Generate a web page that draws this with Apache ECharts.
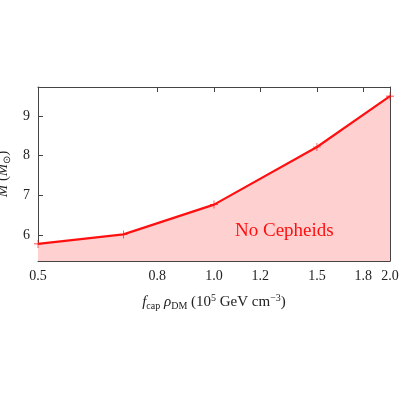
<!DOCTYPE html><html><head><meta charset="utf-8">
<script src="https://cdn.jsdelivr.net/npm/echarts@6/dist/echarts.min.js"></script>
<style>html,body{margin:0;padding:0;background:#fff}#c{width:400px;height:400px}</style></head><body><div id="c"></div>
<script>
const xVals=[0.5,0.7,1.0,1.5,2.0];
const mVals=[5.78,6.02,6.77,8.22,9.5];
const xTicks=[0.5,0.8,1.0,1.2,1.5,1.8,2.0];
const xTickLabels=['0.5','0.8','1.0','1.2','1.5','1.8','2.0'];
const yTicks=[6,7,8,9];
const L=Math.log10;
const data=xVals.map((x,i)=>[L(x),mVals[i]]);
const tickPos=xTicks.map(L);
const font='Liberation Serif';
const plus='path://M0,4.6L10,4.6L10,5.4L0,5.4ZM4.6,0L5.4,0L5.4,10L4.6,10Z';
const ax={axisLine:{onZero:false,lineStyle:{color:'#444'}},splitLine:{show:false}};
const chart=echarts.init(document.getElementById('c'));
chart.setOption({
 animation:false,
 grid:{left:38,right:10,top:87,bottom:139,containLabel:false,outerBoundsMode:'none'},
 xAxis:[{type:'value',min:L(0.5),max:L(2),...ax,
   axisTick:{inside:true,customValues:tickPos,lineStyle:{color:'#444'}},
   axisLabel:{customValues:tickPos,formatter:v=>{let i=tickPos.findIndex(t=>Math.abs(t-v)<1e-6);return i>=0?xTickLabels[i]:'';},fontFamily:font,fontSize:14,color:'#222',margin:8},
   name:'{i|f}{s|cap} {i|ρ}{s|DM} (10{p|5} GeV cm{p|−3})',nameLocation:'middle',nameGap:32,
   nameTextStyle:{fontFamily:font,fontSize:15,color:'#222',rich:{i:{fontStyle:'italic',fontFamily:font,fontSize:15},s:{fontSize:10,fontFamily:font,verticalAlign:'bottom',padding:[8,0,0,0]},p:{fontSize:10,fontFamily:font,verticalAlign:'top',padding:[0,0,8,0]}}}},
  {type:'value',position:'top',min:L(0.5),max:L(2),...ax,axisTick:{inside:true,customValues:tickPos,lineStyle:{color:'#444'}},axisLabel:{show:false}}],
 yAxis:[{type:'value',min:5.35,max:9.73,...ax,
   axisTick:{inside:true,customValues:yTicks,lineStyle:{color:'#444'}},
   axisLabel:{customValues:yTicks,fontFamily:font,fontSize:14,color:'#222'},
   name:'{i|M} ({i|M}{s|⊙})',nameLocation:'middle',nameGap:20,
   nameTextStyle:{fontFamily:font,fontSize:15,color:'#222',rich:{i:{fontStyle:'italic',fontFamily:font,fontSize:15},s:{fontSize:10,fontFamily:font,verticalAlign:'bottom',padding:[8,0,0,0]}}}},
  {type:'value',position:'right',min:5.35,max:9.73,...ax,axisTick:{inside:true,customValues:yTicks,lineStyle:{color:'#444'}},axisLabel:{show:false}}],
 series:[{type:'line',data:data,symbol:plus,symbolSize:8,
   lineStyle:{color:'#ff1010',width:2.2},itemStyle:{color:'#ff1010'},
   areaStyle:{color:'#ffd0d0',opacity:1,origin:'start'}}],
 graphic:[{type:'text',x:235,y:222,z:100,style:{text:'No Cepheids',font:'19px "Liberation Serif"',fill:'#ff1010'}}]
});
</script></body></html>
